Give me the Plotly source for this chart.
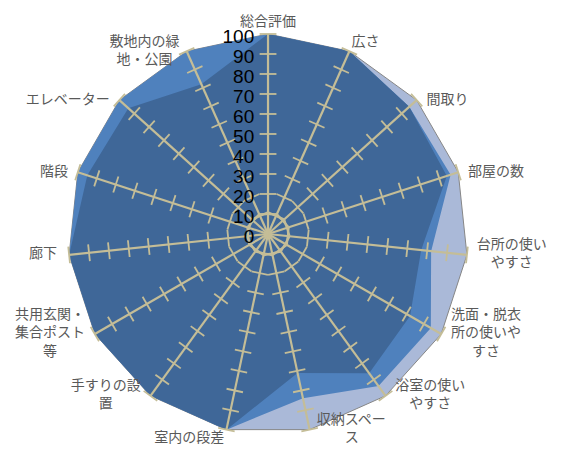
import plotly.graph_objects as go

categories = ["総合評価", "広さ", "間取り", "部屋の数", "台所の使いやすさ",
              "洗面・脱衣所の使いやすさ", "浴室の使いやすさ", "収納スペース",
              "室内の段差", "手すりの設置", "共用玄関・集合ポスト等", "廊下",
              "階段", "エレベーター", "敷地内の緑地・公園"]
# \u3000 / \u2002 pad the short lines so that wrapped labels look centred
tick_labels = ["総合評価", "広さ", "間取り", "部屋の数", "台所の使い<br>\u3000やすさ",
               "洗面・脱衣<br>所の使いや<br>\u3000\u2002すさ", "浴室の使い<br>\u3000やすさ",
               "収納スペー<br>\u3000\u3000ス",
               "室内の段差", "手すりの設<br>置\u3000\u3000", "共用玄関・<br>集合ポスト<br>等\u3000\u3000",
               "廊下", "階段", "エレベーター", "敷地内の緑<br>地・公園\u2002"]
label_positions = ["top center", "top right", "middle right", "middle right", "middle right",
                   "middle right", "middle right", "middle right", "bottom left", "middle left",
                   "middle left", "middle left", "middle left", "middle left", "middle left"]
label_offsets = [6, 2, 14, 14, 14, 14, 14, 10, 2, 14, 14, 18, 14, 14, 10]

series_light = [100, 100, 100, 100, 100, 100, 100, 100, 100, 100, 100, 100, 100, 100, 100]
series_medium = [100, 100, 95, 96, 82, 94, 94, 84, 100, 100, 100, 100, 100, 100, 100]
series_dark = [100, 100, 95, 94, 77, 82, 86, 71, 100, 100, 100, 100, 95, 94, 82]

radial_ticks = list(range(0, 101, 10))

TAN = "#C4BD97"

fig = go.Figure()

def closed(vals):
    return list(vals) + [vals[0]]

fig.add_trace(go.Scatterpolar(r=closed(series_light), theta=closed(categories), fill="toself",
                              fillcolor="rgb(170,185,216)", line=dict(color="rgb(134,134,134)", width=1),
                              mode="lines", hoverinfo="skip"))
fig.add_trace(go.Scatterpolar(r=closed(series_medium), theta=closed(categories), fill="toself",
                              fillcolor="rgb(79,129,189)", line=dict(color="rgba(0,0,0,0)", width=0),
                              mode="lines", hoverinfo="skip"))
fig.add_trace(go.Scatterpolar(r=closed(series_dark), theta=closed(categories), fill="toself",
                              fillcolor="rgb(63,103,152)", line=dict(color="rgba(0,0,0,0)", width=0),
                              mode="lines", hoverinfo="skip"))

# spokes
sr, st = [], []
for c in categories:
    sr += [radial_ticks[0], radial_ticks[-1], None]
    st += [c, c, c]
fig.add_trace(go.Scatterpolar(r=sr, theta=st, mode="lines", line=dict(color=TAN, width=2.2),
                              hoverinfo="skip", connectgaps=False))

# inner ring
fig.add_trace(go.Scatterpolar(r=[radial_ticks[1]] * (len(categories) + 1), theta=closed(categories),
                              mode="lines", line=dict(color=TAN, width=2, shape="spline"),
                              hoverinfo="skip"))

# tick marks on each spoke
tr, tt, ta = [], [], []
n = len(categories)
for i, c in enumerate(categories):
    for v in radial_ticks[1:]:
        tr.append(v)
        tt.append(c)
        ta.append(i * 360.0 / n)
fig.add_trace(go.Scatterpolar(r=tr, theta=tt, mode="markers",
                              marker=dict(symbol="line-ew", size=12, angle=ta,
                                          line=dict(color=TAN, width=1.8)),
                              hoverinfo="skip"))

# category labels at the spoke ends
fig.add_trace(go.Scatterpolar(r=[radial_ticks[-1]] * n, theta=categories, mode="markers+text",
                              text=tick_labels, textposition=label_positions,
                              textfont=dict(family="Noto Sans CJK JP", size=14, color="#595959"),
                              marker=dict(size=label_offsets, color="rgba(0,0,0,0)", opacity=0,
                                          line=dict(width=0, color="rgba(0,0,0,0)")),
                              cliponaxis=False, hoverinfo="skip"))

fig.update_layout(
    width=563, height=442,
    margin=dict(l=0, r=0, t=0, b=0),
    paper_bgcolor="white",
    showlegend=False,
    polar=dict(
        domain=dict(x=[0.1066, 0.8171], y=[0.0362, 0.9412]),
        bgcolor="rgba(0,0,0,0)",
        angularaxis=dict(type="category", direction="clockwise", rotation=90,
                         categoryarray=categories, showticklabels=False,
                         showgrid=False, showline=False, ticks=""),
        radialaxis=dict(range=[0, 100], tickvals=radial_ticks, showgrid=False, showline=False,
                        ticks="", angle=90, side="counterclockwise",
                        tickfont=dict(family="Liberation Sans", size=19, color="black")),
    ),
)

fig.write_html("out.html")
